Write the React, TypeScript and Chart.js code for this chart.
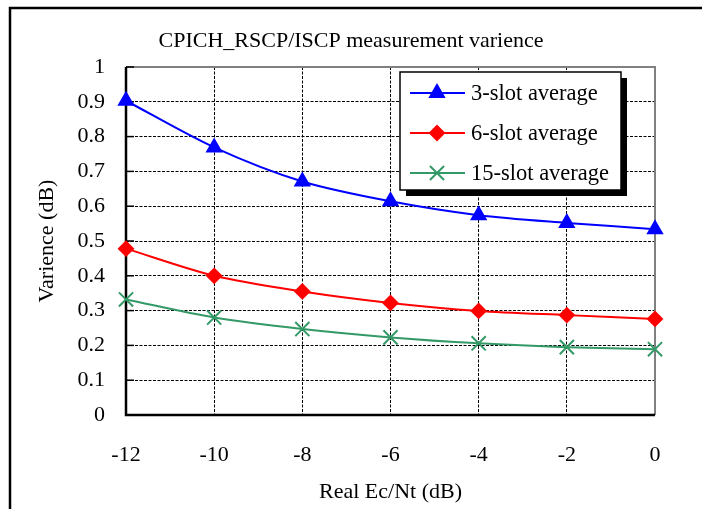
import React, { useEffect, useRef } from "react";
import { Chart, registerables } from "chart.js";
import { drawPoint } from "chart.js/helpers";

Chart.register(...registerables);

const xValues = [-12, -10, -8, -6, -4, -2, 0];
const slot3 = [0.903, 0.769, 0.671, 0.614, 0.574, 0.552, 0.534];
const slot6 = [0.478, 0.4, 0.355, 0.322, 0.299, 0.287, 0.276];
const slot15 = [0.332, 0.28, 0.247, 0.223, 0.206, 0.195, 0.189];
const seriesNames = ["3-slot average", "6-slot average", "15-slot average"];
const titleText = "CPICH_RSCP/ISCP measurement varience";
const xTitle = "Real Ec/Nt (dB)";
const yTitle = "Varience (dB)";

const FONT = "'Liberation Serif', 'Times New Roman', serif";
const BLUE = "#0000FF";
const RED = "#FF0000";
const GREEN = "#339966";

const framePlugin = {
  id: "frame",
  beforeDraw(chart: any) {
    const ctx = chart.ctx;
    ctx.save();
    ctx.fillStyle = "#ffffff";
    ctx.fillRect(0, 0, chart.width, chart.height);
    ctx.strokeStyle = "#000";
    ctx.lineWidth = 2.5;
    ctx.beginPath();
    ctx.moveTo(10, chart.height + 5);
    ctx.lineTo(10, 8);
    ctx.lineTo(chart.width + 5, 8);
    ctx.stroke();
    ctx.restore();
  },
  beforeDatasetsDraw(chart: any) {
    const ctx = chart.ctx;
    const { left, right, top, bottom } = chart.chartArea;
    const y = chart.scales.y;
    ctx.save();
    ctx.lineWidth = 2;
    ctx.strokeStyle = "#808080";
    ctx.beginPath();
    ctx.moveTo(left, top);
    ctx.lineTo(right, top);
    ctx.lineTo(right, bottom);
    ctx.stroke();
    ctx.strokeStyle = "#000";
    ctx.lineWidth = 1.5;
    y.ticks.forEach((t: any) => {
      const py = y.getPixelForValue(t.value);
      ctx.beginPath();
      ctx.moveTo(left, py);
      ctx.lineTo(left + 8, py);
      ctx.stroke();
    });
    ctx.lineWidth = 2.5;
    ctx.beginPath();
    ctx.moveTo(left, top);
    ctx.lineTo(left, bottom);
    ctx.lineTo(right, bottom);
    ctx.stroke();
    ctx.restore();
  },
  afterDraw(chart: any) {
    const ctx = chart.ctx;
    ctx.save();
    ctx.fillStyle = "#000";
    ctx.font = `22px ${FONT}`;
    ctx.textAlign = "center";
    ctx.textBaseline = "middle";
    ctx.fillText(titleText, 351, 41);
    ctx.restore();
  },
};

const legendPlugin = {
  id: "boxLegend",
  afterDraw(chart: any) {
    const ctx = chart.ctx;
    const bx = 400, by = 72, bw = 221, bh = 118;
    ctx.save();
    ctx.fillStyle = "#000";
    ctx.fillRect(bx + 6, by + 6, bw, bh);
    ctx.fillStyle = "#fff";
    ctx.fillRect(bx, by, bw, bh);
    ctx.strokeStyle = "#000";
    ctx.lineWidth = 1.5;
    ctx.strokeRect(bx, by, bw, bh);
    chart.data.datasets.forEach((ds: any, i: number) => {
      const ry = by + 21 + i * 40;
      ctx.strokeStyle = ds.borderColor;
      ctx.lineWidth = 2;
      ctx.beginPath();
      ctx.moveTo(bx + 10, ry);
      ctx.lineTo(bx + 65, ry);
      ctx.stroke();
      ctx.fillStyle = ds.backgroundColor;
      ctx.strokeStyle = ds.borderColor;
      drawPoint(ctx, { pointStyle: ds.pointStyle, radius: ds.pointRadius, borderWidth: 2, rotation: 0 } as any, bx + 37, ry);
      ctx.fillStyle = "#000";
      ctx.font = `22.5px ${FONT}`;
      ctx.textAlign = "left";
      ctx.textBaseline = "middle";
      ctx.fillText(ds.label, bx + 71, ry + 1);
    });
    ctx.restore();
  },
};

export default function App() {
  const ref = useRef<HTMLCanvasElement>(null);
  useEffect(() => {
    if (!ref.current) return;
    const mk = (label: string, data: number[], color: string, style: string, r: number) => ({
      label,
      data: xValues.map((x, i) => ({ x, y: data[i] })),
      borderColor: color,
      backgroundColor: color,
      pointStyle: style,
      pointRadius: r,
      pointHoverRadius: r,
      pointBorderWidth: 2,
      borderWidth: 2,
      tension: 0.3,
      clip: false as any,
    });
    const chart = new Chart(ref.current, {
      type: "line",
      data: {
        datasets: [
          mk(seriesNames[0], slot3, BLUE, "triangle", 8),
          mk(seriesNames[1], slot6, RED, "rectRot", 7),
          mk(seriesNames[2], slot15, GREEN, "crossRot", 10),
        ],
      },
      options: {
        animation: false,
        responsive: false,
        devicePixelRatio: 1,
        layout: { padding: { left: 0, right: 47, top: 67, bottom: 0 } },
        plugins: {
          legend: { display: false },
          tooltip: { enabled: false },
          title: { display: false },
        },
        scales: {
          x: {
            type: "linear",
            min: -12,
            max: 0,
            afterFit: (s: any) => { s.height = 94; },
            ticks: { stepSize: 2, color: "#000", padding: 27, font: { family: FONT, size: 22 } },
            grid: { color: "#000", lineWidth: 1, drawTicks: false },
            border: { display: false, dash: [3, 1.5] },
            title: { display: true, text: xTitle, color: "#000", font: { family: FONT, size: 22 }, padding: { top: 0, bottom: 4 } },
          },
          y: {
            min: 0,
            max: 1,
            afterFit: (s: any) => { s.width = 126; },
            ticks: {
              stepSize: 0.1,
              color: "#000",
              padding: 21,
              font: { family: FONT, size: 22 },
              callback: (v: any) => String(Number(Number(v).toFixed(1))),
            },
            grid: { color: "#000", lineWidth: 1, drawTicks: false },
            border: { display: false, dash: [3, 1.5] },
            title: { display: true, text: yTitle, color: "#000", font: { family: FONT, size: 22 }, padding: { top: 34, bottom: 0 } },
          },
        },
      },
      plugins: [framePlugin, legendPlugin],
    });
    return () => chart.destroy();
  }, []);
  return (
    <div style={{ position: "fixed", left: 0, top: 0, width: 702, height: 509 }}>
      <canvas ref={ref} width={702} height={509} style={{ display: "block" }} />
    </div>
  );
}
